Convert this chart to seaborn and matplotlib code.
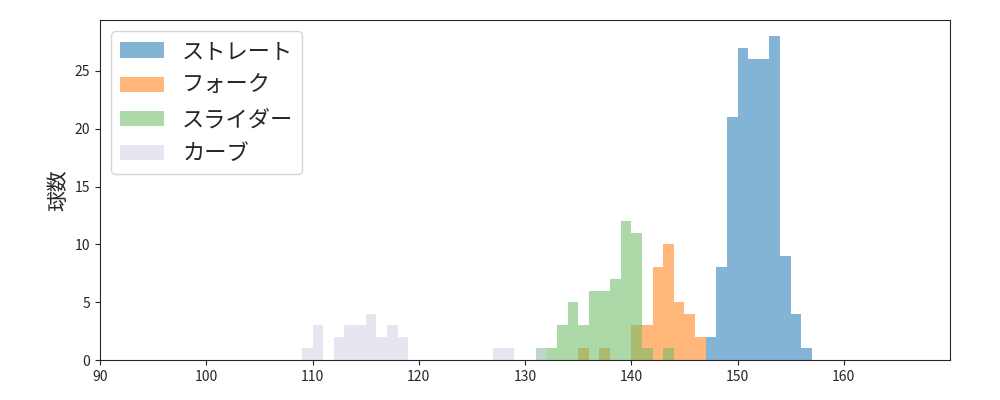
import numpy as np
import pandas as pd
import matplotlib
matplotlib.use("Agg")
import matplotlib.pyplot as plt
import seaborn as sns

sns.set_style("ticks")
plt.rcParams['font.family'] = ['Noto Sans CJK JP', 'DejaVu Sans']

names = ["ストレート", "フォーク", "スライダー", "カーブ"]
colors = ["#1f77b4", "#ff7f0e", "#6aba63", "#d2d2e6"]
straight_bins = [147, 148, 149, 150, 151, 152, 153, 154, 155, 156]
straight_cnt = [2, 8, 21, 27, 26, 26, 28, 9, 4, 1]
fork_bins = [135, 137, 140, 141, 142, 143, 144, 145, 146]
fork_cnt = [1, 1, 3, 3, 8, 10, 5, 4, 2]
slider_bins = [131, 132, 133, 134, 135, 136, 137, 138, 139, 140, 141, 143]
slider_cnt = [1, 1, 3, 5, 3, 6, 6, 7, 12, 11, 1, 1]
curve_bins = [109, 110, 112, 113, 114, 115, 116, 117, 118, 127, 128, 131]
curve_cnt = [1, 3, 2, 3, 3, 4, 2, 3, 2, 1, 1, 1]

series = [(straight_bins, straight_cnt), (fork_bins, fork_cnt),
          (slider_bins, slider_cnt), (curve_bins, curve_cnt)]

fig, ax = plt.subplots(figsize=(10, 4), dpi=100)
for name, col, (b, c) in zip(names, colors, series):
    df = pd.DataFrame({"x": np.array(b) + 0.5, "w": c})
    sns.histplot(df, x="x", weights="w", binwidth=1, binrange=(min(b), max(b) + 1),
                 color=col, alpha=0.55, edgecolor="none", linewidth=0, ax=ax, label=name)

ax.set_xlim(90, 170)
ax.set_ylim(0, 29.4)
ax.set_xticks(range(90, 170, 10))
ax.set_xlabel("")
ax.set_ylabel("球数", fontsize=15)
ax.legend(fontsize=16, loc="upper left")
fig.subplots_adjust(left=0.1, right=0.95, top=0.95, bottom=0.1)
fig.savefig("out.png")
